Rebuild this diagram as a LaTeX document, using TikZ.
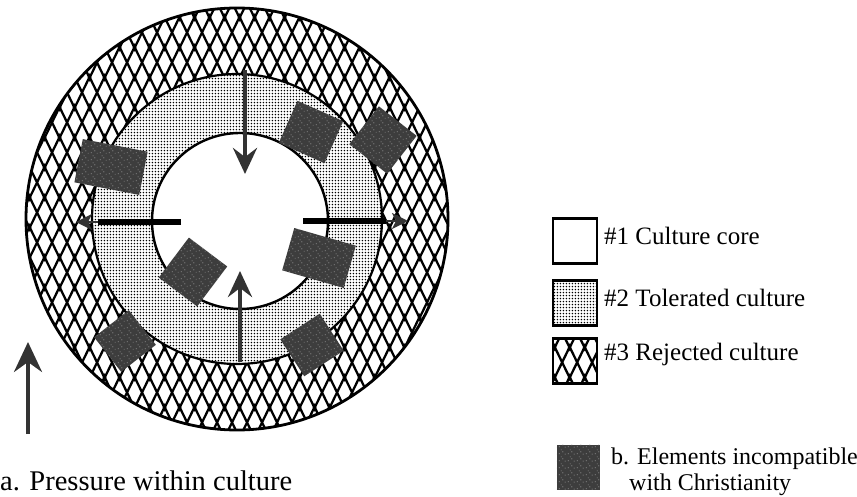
\documentclass[tikz,border=0pt]{standalone}
\usepackage{fontspec}
\setmainfont{Liberation Serif}
\usetikzlibrary{arrows.meta,patterns}

\pgfdeclarepatternformonly{lattice}{\pgfqpoint{0pt}{0pt}}{\pgfqpoint{15pt}{30pt}}{\pgfqpoint{15pt}{30pt}}{%
  \pgfsetlinewidth{2.4pt}%
  \pgfpathmoveto{\pgfqpoint{-22.5pt}{-15pt}}\pgfpathlineto{\pgfqpoint{7.5pt}{45pt}}%
  \pgfpathmoveto{\pgfqpoint{-7.5pt}{-15pt}}\pgfpathlineto{\pgfqpoint{22.5pt}{45pt}}%
  \pgfpathmoveto{\pgfqpoint{7.5pt}{-15pt}}\pgfpathlineto{\pgfqpoint{37.5pt}{45pt}}%
  \pgfpathmoveto{\pgfqpoint{7.5pt}{-15pt}}\pgfpathlineto{\pgfqpoint{-22.5pt}{45pt}}%
  \pgfpathmoveto{\pgfqpoint{22.5pt}{-15pt}}\pgfpathlineto{\pgfqpoint{-7.5pt}{45pt}}%
  \pgfpathmoveto{\pgfqpoint{37.5pt}{-15pt}}\pgfpathlineto{\pgfqpoint{7.5pt}{45pt}}%
  \pgfusepath{stroke}}

\pgfdeclarepatternformonly{stip}{\pgfqpoint{0pt}{0pt}}{\pgfqpoint{3.4pt}{3.4pt}}{\pgfqpoint{3.4pt}{3.4pt}}{%
  \pgfpathcircle{\pgfqpoint{1.7pt}{1.7pt}}{0.95pt}\pgfusepath{fill}}

\pgfdeclarepatternformonly{speck}{\pgfqpoint{0pt}{0pt}}{\pgfqpoint{9pt}{7pt}}{\pgfqpoint{9pt}{7pt}}{%
  \pgfpathrectangle{\pgfqpoint{1pt}{1pt}}{\pgfqpoint{0.8pt}{0.8pt}}%
  \pgfpathrectangle{\pgfqpoint{5pt}{3pt}}{\pgfqpoint{0.7pt}{1.4pt}}%
  \pgfpathrectangle{\pgfqpoint{3pt}{5.5pt}}{\pgfqpoint{1pt}{0.6pt}}%
  \pgfpathrectangle{\pgfqpoint{7.5pt}{0.5pt}}{\pgfqpoint{0.6pt}{0.9pt}}%
  \pgfusepath{fill}}

\tikzset{
  darkbox/.style={fill=black!76, postaction={pattern=speck, pattern color=white!70!black}, inner sep=0pt},
  legbox/.style={draw, line width=2.6pt, minimum width=44pt, minimum height=45pt, inner sep=0pt},
  lbl/.style={inner sep=0pt, font=\fontsize{25}{30}\selectfont},
  cbl/.style={inner sep=0pt, font=\fontsize{24}{28}\selectfont},
  parrow/.style={draw=black!80, line width=4pt, -{Stealth[length=26pt,width=24pt,inset=9pt]}},
  barrow/.style={draw=black, line width=6.5pt},
  sarrow/.style={draw=black!80, line width=2.5pt, -{Stealth[length=16pt,width=16pt,inset=4pt]}}
}

\begin{document}
\begin{tikzpicture}[x=1pt,y=-1pt]
\useasboundingbox (0,0) rectangle (857,497);
\coordinate (c) at (237,219);
\coordinate (ci) at (240,221);
% rings
\fill[pattern=lattice] (c) circle[radius=211];
\draw[line width=2.8pt] (c) circle[radius=211];
\fill[white] (c) circle[radius=145];
\fill[pattern=stip] (c) circle[radius=145];
\draw[line width=2.2pt] (c) circle[radius=145];
\fill[white] (ci) circle[radius=88];
\draw[line width=2.4pt] (ci) circle[radius=88];
% elements incompatible with Christianity
\node[darkbox, minimum width=66pt, minimum height=44pt, rotate=-11] (s1) at (111,167) {};
\node[darkbox, minimum width=50pt, minimum height=46pt, rotate=-24] (s2) at (311,132) {};
\node[darkbox, minimum width=48pt, minimum height=48pt, rotate=-38] (s3) at (383,140) {};
\node[darkbox, minimum width=48pt, minimum height=50pt, rotate=-37] (s4) at (193,272) {};
\node[darkbox, minimum width=64pt, minimum height=44pt, rotate=-16] (s5) at (319,258) {};
\node[darkbox, minimum width=44pt, minimum height=44pt, rotate=38] (s6) at (125,341) {};
\node[darkbox, minimum width=47pt, minimum height=44pt, rotate=33] (s7) at (312,345) {};
% pressure arrows
\coordinate (tA) at (245,70);  \coordinate (tB) at (245,174);
\coordinate (bA) at (240,362); \coordinate (bB) at (240,271);
\coordinate (lA) at (181,222); \coordinate (lB) at (98,222);  \coordinate (lC) at (76,222);
\coordinate (rA) at (303,221); \coordinate (rB) at (386,221); \coordinate (rC) at (408,221);
\draw[parrow] (tA) -- (tB);
\draw[parrow] (bA) -- (bB);
\draw[barrow] (lA) -- (lB);
\draw[sarrow] (lB) -- (lC);
\draw[barrow] (rA) -- (rB);
\draw[sarrow] (rB) -- (rC);
% legend arrow
\coordinate (aA) at (28,434); \coordinate (aB) at (28,342);
\draw[draw=black!80, line width=4pt, -{Stealth[length=30pt,width=28pt,inset=10pt]}] (aA) -- (aB);
\node[inner sep=0pt, font=\fontsize{28.5}{32}\selectfont, anchor=base west] (ta) at (0,490) {a. Pressure within culture};
% legend boxes
\node[legbox, fill=white] (k1) at (575,241) {};
\node[legbox, pattern=stip] (k2) at (575,303) {};
\node[legbox, pattern=lattice] (k3) at (575,361) {};
\node[lbl, anchor=base west] (t1) at (604,245) {\#1 Culture core};
\node[lbl, anchor=base west] (t2) at (604,306) {\#2 Tolerated culture};
\node[lbl, anchor=base west] (t3) at (604,360) {\#3 Rejected culture};
% legend b
\node[darkbox, minimum width=43pt, minimum height=45pt] (kb) at (578,467) {};
\node[cbl, anchor=base west] (tb1) at (611,464) {b. Elements incompatible};
\node[cbl, anchor=base west] (tb2) at (629,490) {with Christianity};
\end{tikzpicture}
\end{document}
